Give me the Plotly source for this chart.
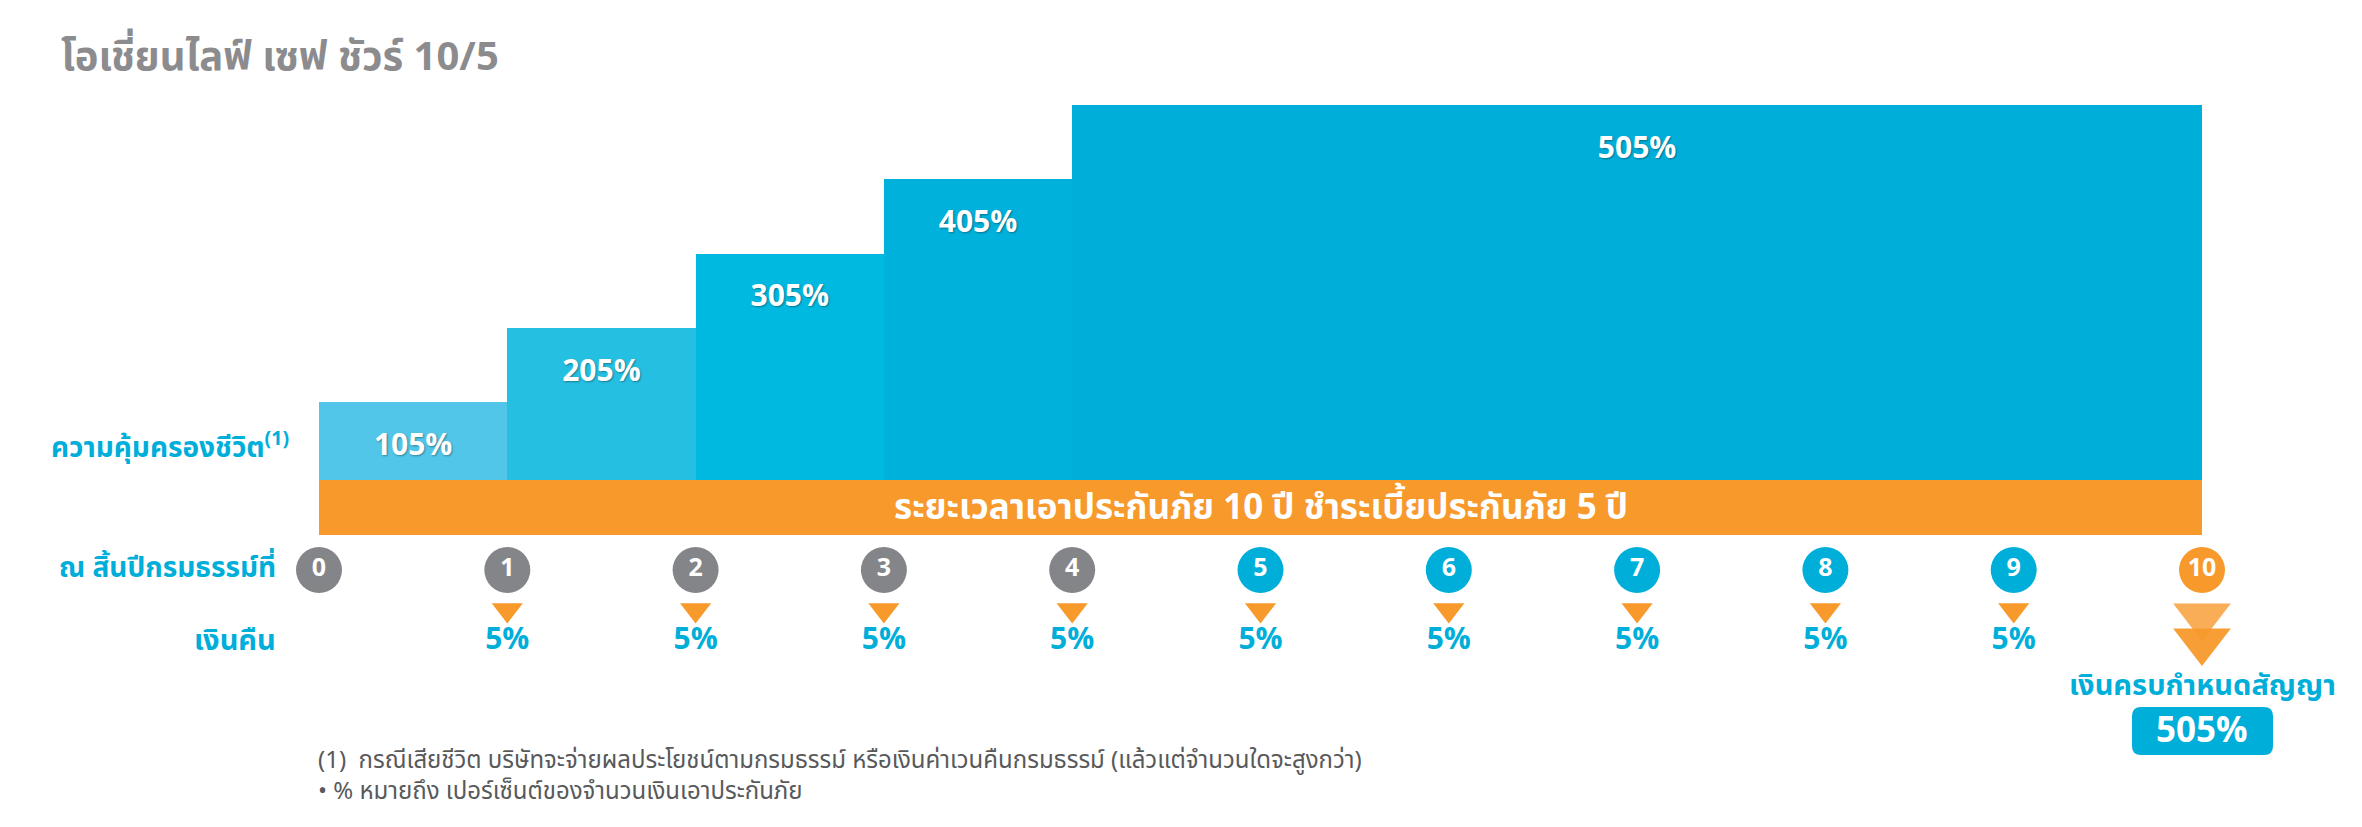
import plotly.graph_objects as go

# coverage steps (life cover, % of sum assured)
cover_start = [0, 1, 2, 3, 4]
cover_end = [1, 2, 3, 4, 10]
cover_pct = [105, 205, 305, 405, 505]
cover_colors = ["#52C6E8", "#25BFE2", "#00B9E0", "#00B1DB", "#00AEDA"]

# policy years and payouts
years = [0, 1, 2, 3, 4, 5, 6, 7, 8, 9, 10]
year_colors = ["#848588"] * 5 + ["#00AEDA"] * 5 + ["#F7992B"]
cashback_years = [1, 2, 3, 4, 5, 6, 7, 8, 9]
cashback_pct = [5, 5, 5, 5, 5, 5, 5, 5, 5]
maturity_year = 10
maturity_pct = 505
term_years = 10

FONT = "Noto Sans Thai, Noto Sans, DejaVu Sans, sans-serif"
CYAN = "#00AEDA"
ORANGE = "#F7992B"
W, H = 2362, 827
OFF = 8                # page body margin around the plot div

# pixel helpers (layout only), p = screen px from top
S = 375 / 505          # px per %
BASE = 480             # bar baseline on screen
X0, XSTEP = 319, 188.3  # screen x of year 0, px per year


def ypx(p):
    return (BASE - p) / S


def xpx(p):
    return (p - X0) / XSTEP


def paper(x, y):
    return (x - OFF) / W, 1 - (y - OFF) / H


fig = go.Figure()

# coverage bars
mid = [(a + b) / 2 for a, b in zip(cover_start, cover_end)]
fig.add_trace(go.Bar(
    x=mid,
    y=cover_pct,
    width=[b - a for a, b in zip(cover_start, cover_end)],
    marker=dict(color=cover_colors, line=dict(width=0)),
    hoverinfo="skip",
))
fig.add_trace(go.Scatter(
    x=mid,
    y=[v - 61 for v in cover_pct],
    mode="text",
    text=[f"{v}%" for v in cover_pct],
    textfont=dict(family=FONT, size=30, color="white", weight="bold",
                  shadow="1px 1px 2px rgba(0,0,0,0.35)"),
    hoverinfo="skip",
))

# policy term band
fig.add_shape(type="rect", x0=0, x1=term_years, y0=ypx(535), y1=ypx(480),
              fillcolor=ORANGE, line=dict(width=0), layer="below")
fig.add_annotation(x=term_years / 2, y=ypx(508), showarrow=False, yanchor="middle",
                   text="ระยะเวลาเอาประกันภัย 10 ปี ชำระเบี้ยประกันภัย 5 ปี",
                   font=dict(family=FONT, size=35, color="white", weight="bold"))

# year circles
fig.add_trace(go.Scatter(
    x=years, y=[ypx(570)] * len(years),
    mode="markers+text",
    marker=dict(size=46, color=year_colors, line=dict(width=0)),
    text=[str(y) for y in years],
    textposition="middle center",
    textfont=dict(family=FONT, size=25, color="white", weight="bold"),
    hoverinfo="skip",
))

# cash back arrows and labels
fig.add_trace(go.Scatter(
    x=cashback_years, y=[ypx(610)] * len(cashback_years),
    mode="markers",
    marker=dict(symbol="triangle-down", size=27, color=ORANGE, line=dict(width=0)),
    hoverinfo="skip",
))
fig.add_trace(go.Scatter(
    x=cashback_years, y=[ypx(641)] * len(cashback_years),
    mode="text",
    text=[f"{v}%" for v in cashback_pct],
    textfont=dict(family=FONT, size=30, color=CYAN, weight="bold"),
    hoverinfo="skip",
))

# maturity arrows
fig.add_trace(go.Scatter(
    x=[maturity_year], y=[ypx(616)],
    mode="markers",
    marker=dict(symbol="triangle-down", size=50, color="#F9AD57", line=dict(width=0)),
    hoverinfo="skip",
))
fig.add_trace(go.Scatter(
    x=[maturity_year], y=[ypx(641)],
    mode="markers",
    marker=dict(symbol="triangle-down", size=50, color=ORANGE, opacity=0.95,
                line=dict(width=0)),
    hoverinfo="skip",
))
fig.add_annotation(x=maturity_year, y=ypx(686), showarrow=False, yanchor="middle",
                   text="เงินครบกำหนดสัญญา",
                   font=dict(family=FONT, size=29, color=CYAN, weight="bold"))

# rounded box behind the maturity amount
bx0, bx1 = xpx(2132), xpx(2273)
by0, by1 = ypx(755), ypx(707)
rx, ry = 9 / XSTEP, 9 / S
box_path = (
    f"M{bx0 + rx},{by0} L{bx1 - rx},{by0} Q{bx1},{by0} {bx1},{by0 + ry} "
    f"L{bx1},{by1 - ry} Q{bx1},{by1} {bx1 - rx},{by1} "
    f"L{bx0 + rx},{by1} Q{bx0},{by1} {bx0},{by1 - ry} "
    f"L{bx0},{by0 + ry} Q{bx0},{by0} {bx0 + rx},{by0} Z"
)
fig.add_shape(type="path", path=box_path, fillcolor=CYAN, line=dict(width=0))
fig.add_annotation(x=maturity_year, y=ypx(731), showarrow=False, yanchor="middle",
                   text=f"{maturity_pct}%",
                   font=dict(family=FONT, size=35, color="white", weight="bold"))

# row labels
row_labels = [
    ("ความคุ้มครองชีวิต<sup>(1)</sup>", 447, 28, 291),
    ("ณ สิ้นปีกรมธรรม์ที่", 568, 28, 278),
    ("เงินคืน", 641, 29, 278),
]
for txt, yy, fs, xr in row_labels:
    ax, ay = paper(xr, yy)
    fig.add_annotation(x=ax, y=ay, xref="paper", yref="paper", xanchor="right",
                       yanchor="middle", showarrow=False, text=txt,
                       font=dict(family=FONT, size=fs, color=CYAN, weight="bold"))

# title
tx, ty = paper(59, 58)
fig.add_annotation(x=tx, y=ty, xref="paper", yref="paper", xanchor="left",
                   yanchor="middle", showarrow=False,
                   text="โอเชี่ยนไลฟ์ เซฟ ชัวร์ 10/5",
                   font=dict(family=FONT, size=40, color="#8C8C8E", weight="bold"))

# footnotes (one block so the lines don't collide)
footnotes = [
    "(1)  กรณีเสียชีวิต บริษัทจะจ่ายผลประโยชน์ตามกรมธรรม์ หรือเงินค่าเวนคืนกรมธรรม์ (แล้วแต่จำนวนใดจะสูงกว่า)",
    "• % หมายถึง เปอร์เซ็นต์ของจำนวนเงินเอาประกันภัย",
]
fx, fy = paper(316, 776)
fig.add_annotation(x=fx, y=fy, xref="paper", yref="paper", xanchor="left",
                   yanchor="middle", align="left", showarrow=False,
                   text="<br>".join(footnotes),
                   font=dict(family=FONT, size=24, color="#58595B"))

fig.update_layout(
    width=W, height=H,
    margin=dict(l=0, r=0, t=0, b=0),
    paper_bgcolor="white", plot_bgcolor="white",
    showlegend=False,
    bargap=0,
    xaxis=dict(range=[xpx(OFF), xpx(OFF + W)], visible=False, fixedrange=True),
    yaxis=dict(range=[ypx(OFF + H), ypx(OFF)], visible=False, fixedrange=True),
)

fig.write_html("out.html")
